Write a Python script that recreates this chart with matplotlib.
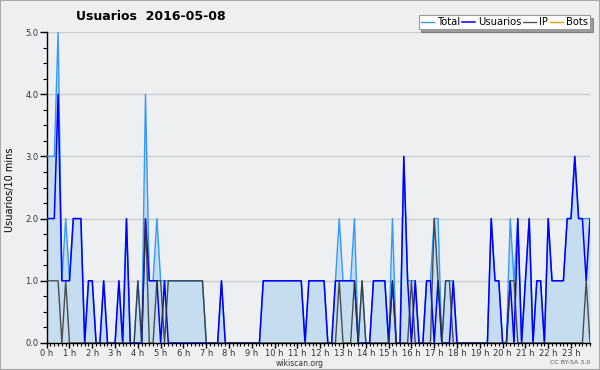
import matplotlib
matplotlib.use("Agg")
import matplotlib.pyplot as plt
import numpy as np
from matplotlib.patches import Rectangle

# 10-minute slots over the day (144 values)
usuarios = [
    2, 2, 2, 4, 1, 1, 1, 2, 2, 2,
    0, 1, 1, 0, 0, 1, 0, 0, 0, 1,
    0, 2, 0, 0, 0, 0, 2, 1, 1, 1,
    0, 1, 0, 0, 0, 0, 0, 0, 0, 0,
    0, 0, 0, 0, 0, 0, 1, 0, 0, 0,
    0, 0, 0, 0, 0, 0, 0, 1, 1, 1,
    1, 1, 1, 1, 1, 1, 1, 1, 0, 1,
    1, 1, 1, 1, 0, 0, 1, 1, 1, 1,
    1, 1, 0, 0, 0, 0, 1, 1, 1, 1,
    0, 1, 0, 0, 3, 1, 0, 1, 0, 0,
    1, 1, 0, 1, 0, 0, 0, 1, 0, 0,
    0, 0, 0, 0, 0, 0, 0, 2, 1, 1,
    0, 0, 1, 0, 2, 0, 1, 2, 0, 1,
    1, 0, 2, 1, 1, 1, 1, 2, 2, 3,
    2, 2, 1, 2,
]
ip = [
    1, 1, 1, 1, 0, 1, 0, 0, 0, 0,
    0, 0, 0, 0, 0, 0, 0, 0, 0, 0,
    0, 0, 0, 0, 1, 0, 2, 0, 0, 1,
    1, 0, 1, 1, 1, 1, 1, 1, 1, 1,
    1, 1, 0, 0, 0, 0, 0, 0, 0, 0,
    0, 0, 0, 0, 0, 0, 0, 0, 0, 0,
    0, 0, 0, 0, 0, 0, 0, 0, 0, 0,
    0, 0, 0, 0, 0, 0, 0, 1, 0, 0,
    0, 1, 0, 1, 0, 0, 0, 0, 0, 0,
    0, 1, 0, 0, 0, 0, 1, 0, 0, 0,
    0, 0, 2, 1, 0, 1, 1, 0, 0, 0,
    0, 0, 0, 0, 0, 0, 0, 0, 0, 0,
    0, 0, 1, 1, 0, 0, 0, 0, 0, 0,
    0, 0, 0, 0, 0, 0, 0, 0, 0, 0,
    0, 0, 1, 0,
]
bots = [0] * 144
total = [u + i + b for u, i, b in zip(usuarios, ip, bots)]
hour_labels = [f"{h} h" for h in range(24)]

hours = np.arange(len(total)) / 6.0

bg = "#eeeff1"
fig = plt.figure(figsize=(6, 3.7), dpi=100, facecolor=bg)
ax = fig.add_axes([46.7 / 600, 1 - 343 / 370, (590 - 46.7) / 600, (343 - 32) / 370])
ax.set_facecolor(bg)

ax.fill_between(hours, total, 0, color="#c6ddf0", lw=0, zorder=1)
ax.plot(hours, bots, color="#ff9900", lw=1, label="Bots", zorder=2)
ax.plot(hours, total, color="#3399ff", lw=1, label="Total", zorder=3)
ax.plot(hours, usuarios, color="#0000ff", lw=1.1, label="Usuarios", zorder=4)
ax.plot(hours, ip, color="#333333", lw=1, alpha=0.85, label="IP", zorder=5)

ax.set_xlim(0, 143 / 6)
ax.set_ylim(0, 5)
ax.set_yticks(np.arange(0, 5.01, 1))
ax.set_yticklabels([f"{v:.1f}" for v in range(6)])
ax.set_yticks(np.arange(0, 5.01, 0.25), minor=True)
ax.set_xticks(range(24))
ax.set_xticklabels(hour_labels)
ax.set_xticks(np.arange(0, 143 / 6 + 0.01, 1 / 6), minor=True)
ax.tick_params(axis="y", which="major", labelsize=6, length=5, width=1, pad=1)
ax.tick_params(axis="y", which="minor", length=3, width=0.8)
ax.tick_params(axis="x", which="major", labelsize=6, length=3.5, width=1, pad=0.5)
ax.tick_params(axis="x", which="minor", length=2.5, width=0.8)
for t in ax.get_xticklabels() + ax.get_yticklabels():
    t.set_color("#333333")

ax.grid(True, axis="y", color="#cccccc", lw=1)
ax.set_axisbelow(True)
for side in ("top", "right"):
    ax.spines[side].set_visible(False)
ax.spines["left"].set_linewidth(1)
ax.spines["bottom"].set_linewidth(1)

fig.text(151 / 600, 1 - 17 / 370, "Usuarios  2016-05-08", ha="center", va="center",
         fontsize=9, fontweight="bold")
fig.text(10 / 600, 1 - 190 / 370, "Usuarios/10 mins", rotation=90, ha="center", va="center",
         fontsize=7)
fig.text(300 / 600, 1 - 363 / 370, "wikiscan.org", ha="center", va="center", fontsize=5.5,
         color="#333333")
fig.text(590 / 600, 1 - 363 / 370, "CC BY-SA 3.0", ha="right", va="center", fontsize=4.5,
         color="#555555")

handles, labels = ax.get_legend_handles_labels()
order = [labels.index(n) for n in ("Total", "Usuarios", "IP", "Bots")]
leg = fig.legend([handles[k] for k in order], [labels[k] for k in order],
                 loc="upper right", bbox_to_anchor=(590 / 600, 1 - 15 / 370), ncol=4,
                 fontsize=7.2, frameon=True, fancybox=False, shadow=True,
                 edgecolor="#999999", handlelength=1.3, handletextpad=0.3,
                 columnspacing=0.2, borderpad=0.2, borderaxespad=0)
leg.get_frame().set_linewidth(0.8)

fig.patches.append(Rectangle((0, 0), 1, 1, transform=fig.transFigure, fill=False,
                             edgecolor="#aaaaaa", lw=1.5))

fig.savefig("out.png", dpi=100, facecolor=bg)
